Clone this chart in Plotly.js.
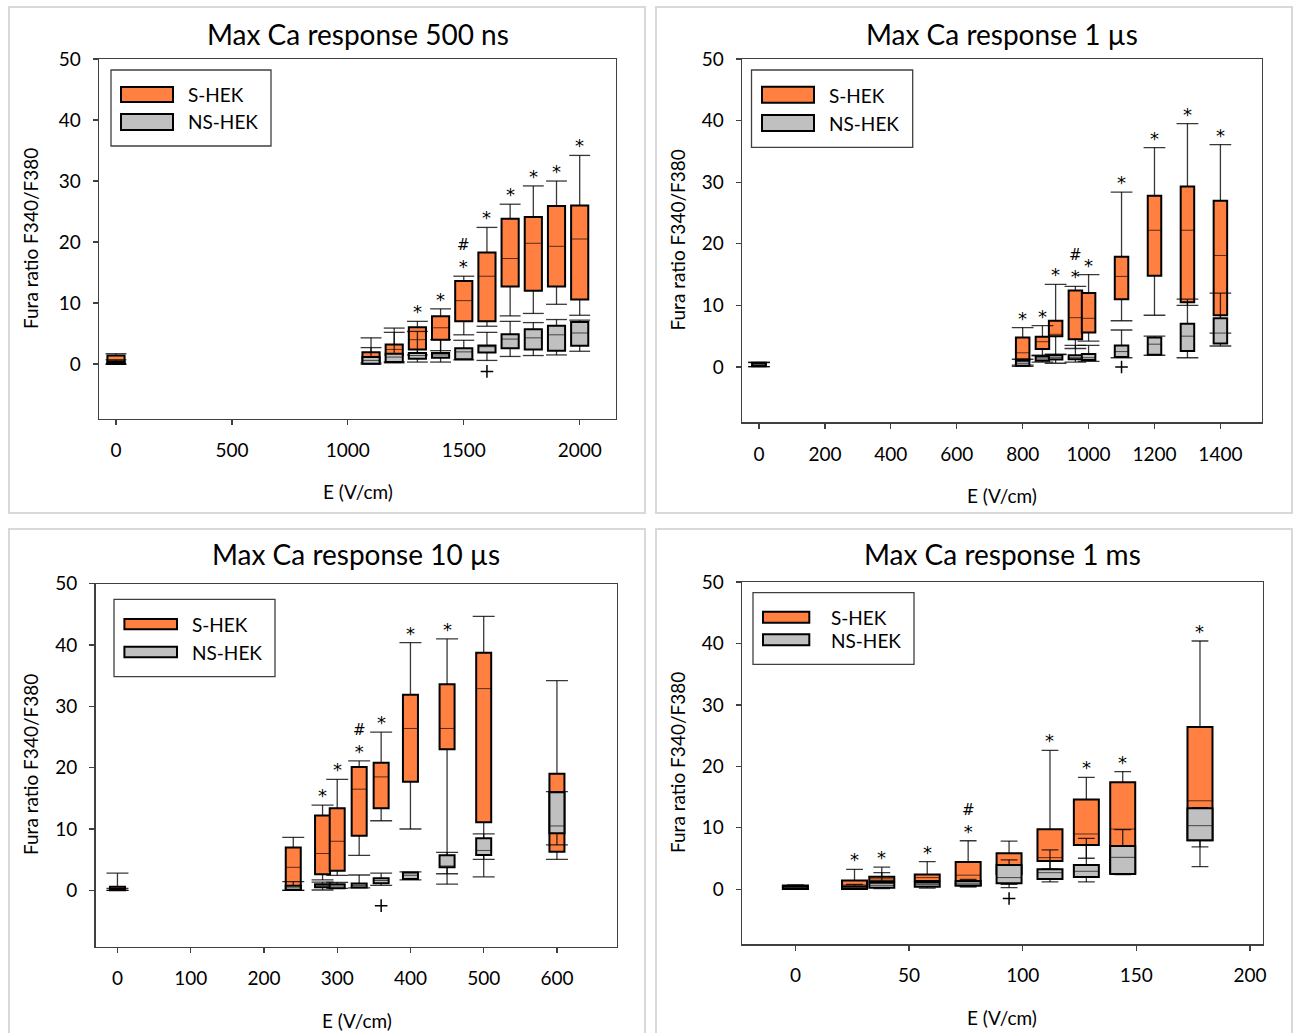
<!DOCTYPE html>
<html>
<head>
<meta charset="utf-8">
<script src="https://cdn.plot.ly/plotly-3.0.1.min.js"></script>
<style>
  html, body { margin: 0; padding: 0; background: #ffffff; }
  #chart { width: 1295px; height: 1033px; }
</style>
</head>
<body>
<div id="chart"></div>
<script>
// Box statistics per field strength, one row per box: [lower whisker, Q1, median, Q3, upper whisker]

// ---- 500 ns pulses ----
const x500 = [0, 1100, 1200, 1300, 1400, 1500, 1600, 1700, 1800, 1900, 2000];
const s500 = [
  [0, 0.05, 0.6, 1.4, 1.7],
  [0.2, 0.5, 1.25, 1.96, 4.3],
  [0.4, 1.5, 2.4, 3.2, 5.9],
  [1.5, 2.4, 4.0, 6.05, 7.0],
  [2.2, 4.0, 5.95, 7.85, 9.05],
  [4.8, 7.0, 10.4, 13.6, 14.4],
  [6.2, 7.0, 14.4, 18.3, 22.4],
  [7.9, 12.7, 17.3, 23.8, 26.2],
  [8.3, 12.0, 19.8, 24.1, 29.2],
  [9.8, 12.7, 19.3, 25.9, 30.0],
  [8.0, 10.6, 20.5, 26.0, 34.2]
];
const ns500 = [
  [0, 0.05, 0.2, 0.35, 0.7],
  [0, 0.05, 0.6, 1.15, 2.7],
  [0.2, 0.33, 1.15, 1.7, 5.2],
  [0.33, 0.87, 1.4, 1.8, 5.35],
  [0.33, 1.04, 1.5, 1.8, 4.0],
  [0.7, 0.8, 2.0, 2.6, 3.9],
  [0.6, 1.9, 2.85, 3.05, 5.2],
  [1.25, 2.6, 4.1, 4.9, 7.0],
  [1.4, 2.4, 4.3, 5.7, 6.8],
  [1.5, 2.2, 4.8, 6.3, 7.3],
  [2.1, 3.0, 5.1, 6.9, 7.2]
];
const sig500 = ['', '', '', '*', '*', '#*', '*', '*', '*', '*', '*'];
const nsOut500X = [1600];
const nsOut500Y = [-1.2];

// ---- 1 µs pulses ----
const x1us = [0, 800, 860, 900, 960, 1000, 1100, 1200, 1300, 1400];
const s1us = [
  [0.05, 0.1, 0.4, 0.7, 0.8],
  [0.3, 1.2, 2.3, 4.8, 6.4],
  [1.8, 2.9, 4.1, 4.9, 6.7],
  [2.0, 5.0, 5.3, 7.5, 13.4],
  [3.0, 4.5, 8.0, 12.4, 13.1],
  [4.2, 5.6, 7.9, 12.0, 15.0],
  [7.5, 11.0, 14.7, 17.9, 28.4],
  [8.4, 14.8, 22.2, 27.8, 35.6],
  [10.0, 10.5, 22.2, 29.3, 39.5],
  [5.5, 8.4, 18.1, 27.0, 36.1]
];
const ns1us = [
  [0.05, 0.15, 0.35, 0.6, 0.7],
  [0.1, 0.2, 0.6, 1.0, 1.25],
  [0.8, 1.0, 1.3, 1.7, 1.9],
  [0.6, 1.2, 1.5, 1.9, 2.1],
  [0.8, 1.25, 1.5, 1.9, 3.5],
  [0.9, 1.15, 1.5, 2.1, 3.5],
  [1.5, 1.6, 2.5, 3.5, 6.0],
  [1.9, 2.0, 3.7, 4.8, 5.0],
  [1.5, 2.6, 5.0, 7.0, 11.0],
  [3.4, 3.8, 5.5, 7.9, 12.0]
];
const sig1us = ['', '*', '*', '*', '#*', '*', '*', '*', '*', '*'];
const nsOut1usX = [1100];
const nsOut1usY = [0.0];

// ---- 10 µs pulses ----
const x10us = [0, 240, 280, 300, 330, 360, 400, 450, 500, 600];
const s10us = [
  [0, 0.05, 0.3, 0.6, 2.8],
  [0.0, 0.1, 3.75, 7.0, 8.65],
  [1.7, 2.6, 6.0, 12.2, 13.9],
  [2.45, 3.2, 8.0, 13.4, 18.1],
  [5.7, 8.9, 16.5, 20.1, 21.1],
  [11.35, 13.4, 18.5, 20.8, 25.8],
  [10.0, 17.7, 26.4, 31.9, 40.4],
  [2.7, 23.0, 26.4, 33.6, 41.0],
  [2.2, 11.1, 32.9, 38.75, 44.7],
  [5.05, 6.3, 13.0, 19.0, 34.2]
];
const ns10us = [
  [0, 0.02, 0.1, 0.2, 0.3],
  [0.0, 0.05, 0.4, 0.75, 1.4],
  [0.05, 0.5, 0.75, 0.97, 1.35],
  [0.3, 0.35, 0.7, 0.98, 1.3],
  [0.4, 0.45, 0.8, 1.1, 2.5],
  [0.8, 1.14, 1.6, 1.96, 2.8],
  [1.7, 1.85, 2.45, 2.9, 3.0],
  [1.0, 3.75, 3.97, 5.7, 6.2],
  [5.05, 5.76, 6.5, 8.5, 9.2],
  [7.4, 9.3, 10.5, 16.0, 16.1]
];
const sig10us = ['', '', '*', '*', '#*', '*', '*', '*', '', ''];
const nsOut10usX = [360];
const nsOut10usY = [-2.5];

// ---- 1 ms pulses ----
const x1ms = [0, 26, 38, 58, 76, 94, 112, 128, 144, 178];
const s1ms = [
  [0, 0.05, 0.3, 0.6, 0.7],
  [0, 0.1, 0.7, 1.45, 3.25],
  [1.1, 1.3, 1.7, 2.05, 3.6],
  [1.0, 1.35, 1.9, 2.4, 4.5],
  [0.45, 0.6, 2.3, 4.45, 7.9],
  [0.8, 2.5, 3.5, 5.85, 7.85],
  [3.3, 4.6, 5.15, 9.77, 22.6],
  [5.05, 7.2, 9.0, 14.6, 18.2],
  [2.5, 2.6, 9.8, 17.4, 19.15],
  [3.7, 8.0, 14.4, 26.4, 40.4]
];
const ns1ms = [
  [0, 0.1, 0.3, 0.5, 0.6],
  [0, 0.05, 0.25, 0.45, 0.8],
  [0.1, 0.27, 0.65, 1.07, 2.7],
  [0.2, 0.4, 0.75, 1.1, 1.3],
  [0.4, 0.6, 1.0, 1.35, 1.6],
  [0.26, 0.98, 1.9, 3.95, 4.8],
  [1.2, 1.68, 2.7, 3.25, 6.4],
  [1.2, 2.0, 2.93, 3.96, 8.3],
  [2.4, 2.5, 5.2, 7.05, 9.7],
  [6.9, 8.0, 10.35, 13.2, 13.3]
];
const sig1ms = ['', '*', '*', '*', '#*', '', '*', '*', '*', '*'];
const nsOut1msX = [94];
const nsOut1msY = [-1.5];

const seriesNames = ['S-HEK', 'NS-HEK'];
const titles = ['Max Ca response 500 ns', 'Max Ca response 1 µs', 'Max Ca response 10 µs', 'Max Ca response 1 ms'];
const xTitle = 'E (V/cm)';
const yTitle = 'Fura ratio F340/F380';

// ---- page geometry (pixels) ----
const W = 1295, H = 1033;
const FONT = 'Lato, "Open Sans", sans-serif';
const MARK_FONT = '"DejaVu Sans", sans-serif';
const ORANGE = '#FF8040';
const GREY = '#C0C0C0';
const AXIS = '#404040';

const panels = [
  { x: x500, s: s500, ns: ns500, sig: sig500, ox: nsOut500X, oy: nsOut500Y,
    px: [99, 616], py: [59, 419], xr: [-73.3, 2156.6], yr: [-9, 50], dtick: 500,
    boxW: 74, capHalf: 45, frame: [9, 7, 645, 513],
    titleAt: [357.5, 34], xtAt: [357.5, 491], ytAt: [30, 239],
    legend: { box: [111, 70, 271, 146], sw: [121, 173], sy1: [87, 102], sy2: [114, 130], tx: 186, ty: [94.5, 122] } },
  { x: x1us, s: s1us, ns: ns1us, sig: sig1us, ox: nsOut1usX, oy: nsOut1usY,
    px: [742, 1262], py: [59, 422.4], xr: [-51.6, 1526.2], yr: [-9, 50], dtick: 200,
    boxW: 41, capHalf: 33, frame: [656, 7, 1292, 513],
    titleAt: [1002, 34], xtAt: [1002, 495], ytAt: [677, 240.5],
    legend: { box: [751.5, 70, 912.7, 147.3], sw: [762, 814], sy1: [86.7, 102.7], sy2: [115, 131], tx: 827, ty: [95.7, 123.3] } },
  { x: x10us, s: s10us, ns: ns10us, sig: sig10us, ox: nsOut10usX, oy: nsOut10usY,
    px: [95.5, 617], py: [583.8, 946.7], xr: [-30, 682], yr: [-9.2, 50], dtick: 100,
    boxW: 20.5, capHalf: 15, frame: [9, 529, 645, 1040],
    titleAt: [356, 554], xtAt: [357, 1020], ytAt: [30, 765],
    legend: { box: [114, 599.3, 275, 676.7], sw: [124.4, 177], sy1: [619, 629.3], sy2: [646.7, 657.3], tx: 189.7, ty: [624.3, 652.3] } },
  { x: x1ms, s: s1ms, ns: ns1ms, sig: sig1ms, ox: nsOut1msX, oy: nsOut1msY,
    px: [742, 1262.5], py: [582, 944.3], xr: [-23.5, 205.5], yr: [-8.95, 50], dtick: 50,
    boxW: 11, capHalf: 3.7, frame: [656, 529, 1292, 1040],
    titleAt: [1002, 554], xtAt: [1002, 1017], ytAt: [677, 763],
    legend: { box: [753, 592.7, 914, 664.3], sw: [763, 809.3], sy1: [611.7, 622.7], sy2: [634.3, 645.3], tx: 828.8, ty: [617.7, 640.7] } }
];

const px2x = v => v / W;
const px2y = v => 1 - v / H;

function axId(n) { return n === 1 ? '' : String(n); }

// '#*' means a hash sign stacked above the asterisk
function markText(t) {
  return t === '#*' ? '<span style="font-size:15px">#</span><br>*' : t;
}

// Interquartile boxes as floating bars (base = Q1, height = Q3 - Q1)
function boxTrace(xs, rows, width, color, xa, ya) {
  return {
    type: 'bar', x: xs,
    base: rows.map(r => r[1]),
    y: rows.map(r => r[3] - r[1]),
    width: width,
    marker: { color: color, line: { color: '#000000', width: 2 } },
    xaxis: xa, yaxis: ya, hoverinfo: 'skip', showlegend: false
  };
}

// Whiskers and caps built from each row's fences
function whiskerTrace(xs, rows, capHalf, xa, ya) {
  const X = [], Y = [];
  xs.forEach((x, k) => {
    const [lo, q1, , q3, hi] = rows[k];
    X.push(x, x, null, x - capHalf, x + capHalf, null, x, x, null, x - capHalf, x + capHalf, null);
    Y.push(q3, hi, null, hi, hi, null, lo, q1, null, lo, lo, null);
  });
  return {
    type: 'scatter', mode: 'lines', x: X, y: Y, xaxis: xa, yaxis: ya,
    line: { color: 'rgba(0,0,0,0.78)', width: 1.3 }, hoverinfo: 'skip', showlegend: false
  };
}

// Median lines across each box
function medianTrace(xs, rows, width, xa, ya) {
  const X = [], Y = [];
  xs.forEach((x, k) => {
    X.push(x - width / 2, x + width / 2, null);
    Y.push(rows[k][2], rows[k][2], null);
  });
  return {
    type: 'scatter', mode: 'lines', x: X, y: Y, xaxis: xa, yaxis: ya,
    line: { color: 'rgba(0,0,0,0.65)', width: 1 }, hoverinfo: 'skip', showlegend: false
  };
}

const data = [];
const layout = {
  width: W, height: H,
  margin: { l: 0, r: 0, t: 0, b: 0 },
  paper_bgcolor: '#ffffff', plot_bgcolor: '#ffffff',
  barmode: 'overlay',
  showlegend: false,
  font: { family: FONT, color: '#000000' },
  shapes: [], annotations: []
};

panels.forEach((p, i) => {
  const base = i + 1, over = i + 5;
  const xa = 'x' + axId(base), ya = 'y' + axId(base);
  const xo = 'x' + over, yo = 'y' + over;
  const xdom = [px2x(p.px[0]), px2x(p.px[1])];
  const ydom = [px2y(p.py[1]), px2y(p.py[0])];

  layout['xaxis' + axId(base)] = {
    domain: xdom, range: p.xr, anchor: ya, fixedrange: true,
    showline: true, mirror: true, linecolor: AXIS, linewidth: 1.3,
    ticks: 'outside', ticklen: 5, tickwidth: 1.3, tickcolor: AXIS,
    tick0: 0, dtick: p.dtick, showgrid: false, zeroline: false,
    tickfont: { family: FONT, size: 19, color: '#000000' }, ticklabelstandoff: 9
  };
  layout['yaxis' + axId(base)] = {
    domain: ydom, range: p.yr, anchor: xa, fixedrange: true,
    showline: true, mirror: true, linecolor: AXIS, linewidth: 1.3,
    ticks: 'outside', ticklen: 5, tickwidth: 1.3, tickcolor: AXIS,
    tick0: 0, dtick: 10, showgrid: false, zeroline: false,
    tickfont: { family: FONT, size: 19, color: '#000000' }, ticklabelstandoff: 8
  };
  // second layer so the NS-HEK boxes sit above the S-HEK boxes and whiskers
  layout['xaxis' + over] = { domain: xdom, range: p.xr, overlaying: xa, anchor: yo, visible: false, fixedrange: true };
  layout['yaxis' + over] = { domain: ydom, range: p.yr, overlaying: ya, anchor: xo, visible: false, fixedrange: true };

  data.push(boxTrace(p.x, p.s, p.boxW, ORANGE, xa, ya));
  data.push(medianTrace(p.x, p.s, p.boxW, xa, ya));
  data.push(whiskerTrace(p.x, p.s, p.capHalf, xa, ya));

  data.push(boxTrace(p.x, p.ns, p.boxW, GREY, xo, yo));
  data.push(medianTrace(p.x, p.ns, p.boxW, xo, yo));
  data.push(whiskerTrace(p.x, p.ns, p.capHalf, xo, yo));
  data.push({
    type: 'scatter', mode: 'markers', x: p.ox, y: p.oy, xaxis: xo, yaxis: yo,
    marker: { symbol: 'cross-thin', size: 9, line: { color: '#000000', width: 1.5 } },
    hoverinfo: 'skip', showlegend: false
  });

  // significance marks above the S-HEK upper whiskers
  p.sig.forEach((t, k) => {
    if (!t) return;
    layout.annotations.push({
      xref: xa, yref: ya, x: p.x[k], y: p.s[k][4], text: markText(t),
      yanchor: 'bottom', xanchor: 'center', showarrow: false, yshift: -3,
      font: { family: MARK_FONT, size: 18, color: '#000000' }
    });
  });

  // panel frame
  layout.shapes.push({
    type: 'rect', xref: 'paper', yref: 'paper', layer: 'below',
    x0: px2x(p.frame[0]), x1: px2x(p.frame[2]), y0: px2y(p.frame[3]), y1: px2y(p.frame[1]),
    line: { color: '#d9d9d9', width: 2 }, fillcolor: 'rgba(0,0,0,0)'
  });

  // titles
  layout.annotations.push({
    xref: 'paper', yref: 'paper', x: px2x(p.titleAt[0]), y: px2y(p.titleAt[1]),
    xanchor: 'center', yanchor: 'middle', showarrow: false, text: titles[i],
    font: { family: FONT, size: 28, color: '#000000' }
  });
  layout.annotations.push({
    xref: 'paper', yref: 'paper', x: px2x(p.xtAt[0]), y: px2y(p.xtAt[1]),
    xanchor: 'center', yanchor: 'middle', showarrow: false, text: xTitle,
    font: { family: FONT, size: 19, color: '#000000' }
  });
  layout.annotations.push({
    xref: 'paper', yref: 'paper', x: px2x(p.ytAt[0]), y: px2y(p.ytAt[1]),
    xanchor: 'center', yanchor: 'middle', showarrow: false, text: yTitle, textangle: -90,
    font: { family: FONT, size: 19, color: '#000000' }
  });

  // legend
  const L = p.legend;
  layout.shapes.push({
    type: 'rect', xref: 'paper', yref: 'paper', layer: 'above',
    x0: px2x(L.box[0]), x1: px2x(L.box[2]), y0: px2y(L.box[3]), y1: px2y(L.box[1]),
    line: { color: AXIS, width: 1.3 }, fillcolor: '#ffffff'
  });
  [[L.sy1, ORANGE], [L.sy2, GREY]].forEach(([sy, c], j) => {
    layout.shapes.push({
      type: 'rect', xref: 'paper', yref: 'paper', layer: 'above',
      x0: px2x(L.sw[0]), x1: px2x(L.sw[1]), y0: px2y(sy[1]), y1: px2y(sy[0]),
      line: { color: '#000000', width: 2 }, fillcolor: c
    });
    layout.annotations.push({
      xref: 'paper', yref: 'paper', x: px2x(L.tx), y: px2y(L.ty[j]),
      xanchor: 'left', yanchor: 'middle', showarrow: false, text: seriesNames[j],
      font: { family: FONT, size: 19, color: '#000000' }
    });
  });
});

Plotly.newPlot('chart', data, layout, { staticPlot: true, displayModeBar: false });
</script>
</body>
</html>
